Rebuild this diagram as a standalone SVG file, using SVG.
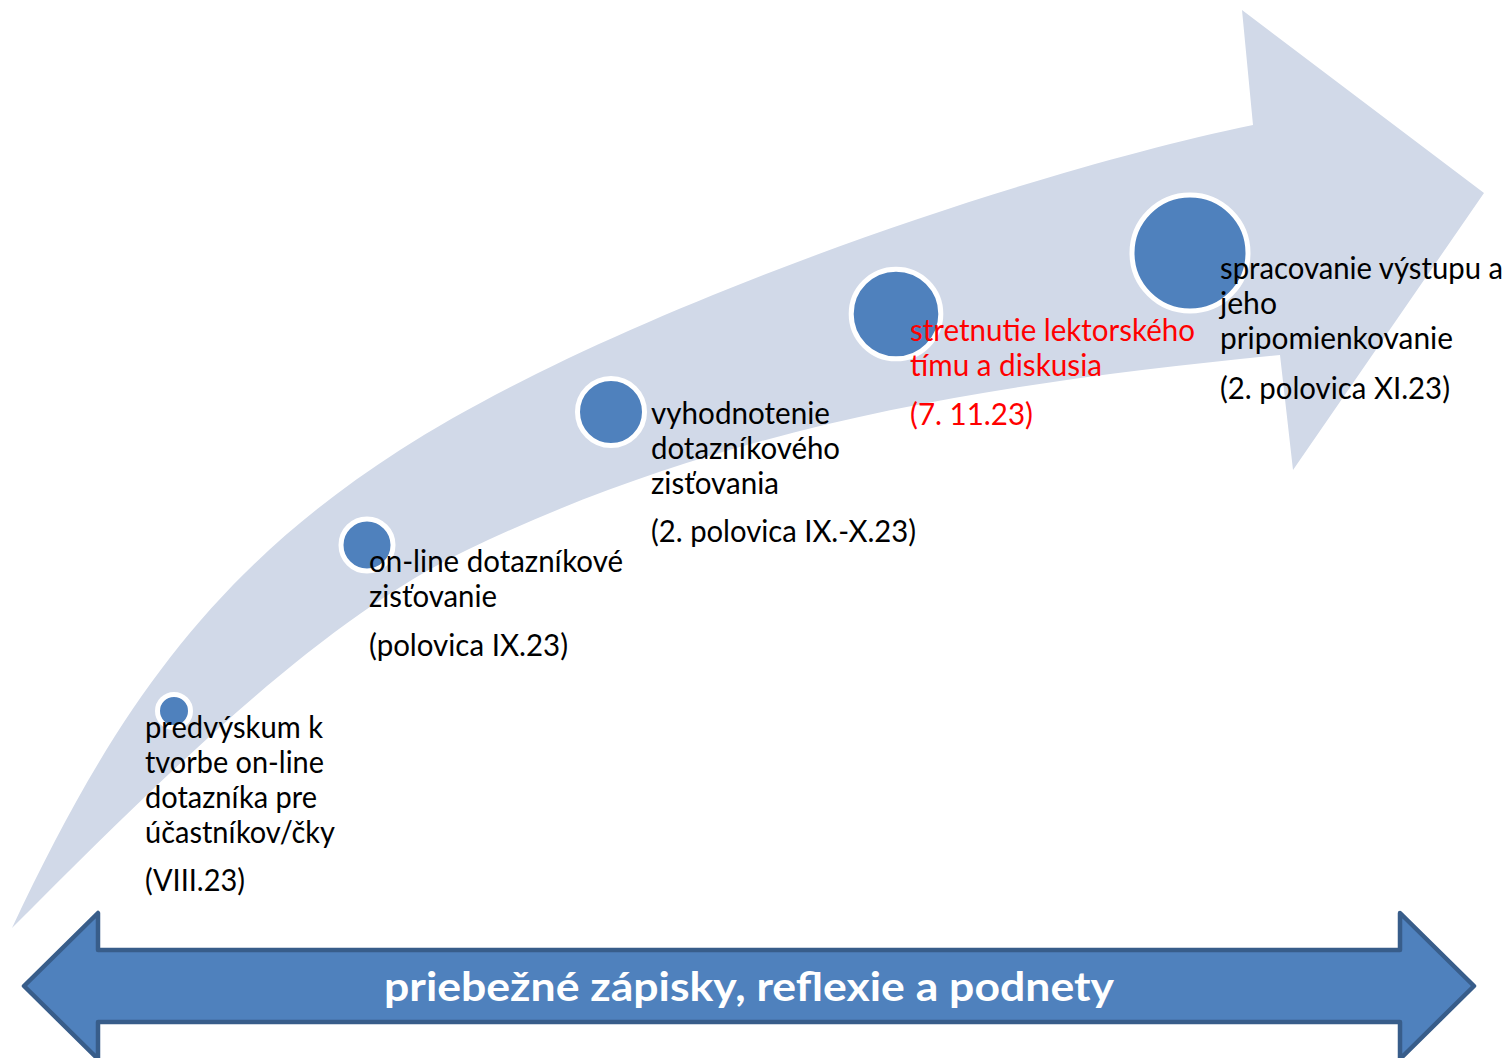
<svg xmlns="http://www.w3.org/2000/svg" width="1509" height="1058" viewBox="0 0 1509 1058">
  <style>
    .band { fill: #D1D9E8; stroke: none; }
    .dot { fill: #4F81BD; stroke: #FFFFFF; stroke-width: 5; }
    .lbl { font-family: Lato, "Liberation Sans", sans-serif; font-size: 30px; fill: #000000; }
    .red { fill: #FF0000; }
    .bar { fill: #4F81BD; stroke: #385D8A; stroke-width: 4.5; stroke-linejoin: round; }
    .barlbl { font-family: Lato, "Liberation Sans", sans-serif; font-size: 41px; font-weight: bold; fill: #FFFFFF; }
  </style>
  <rect width="1509" height="1058" fill="#FFFFFF"/>
  <g id="backdrop">
    <path class="band" d="M 12,928 C 112,715 210,572 400,450 C 610,315 1008,176 1253,125 L 1242,10 L 1484,193 L 1293,470 L 1280,355 C 1010,382 737,420 467,550 C 317,622 162,778 12,928 Z"/>
  </g>
  <g id="connectors"></g>
  <g id="step1">
    <circle class="dot" cx="174" cy="711" r="16.5"/>
    <text class="lbl" x="145" y="737.5" textLength="178" lengthAdjust="spacingAndGlyphs">predvýskum k</text>
    <text class="lbl" x="145" y="772.5" textLength="179" lengthAdjust="spacingAndGlyphs">tvorbe on-line</text>
    <text class="lbl" x="145" y="807.5" textLength="172" lengthAdjust="spacingAndGlyphs">dotazníka pre</text>
    <text class="lbl" x="145" y="842.5" textLength="190" lengthAdjust="spacingAndGlyphs">účastníkov/čky</text>
    <text class="lbl" x="145" y="891" textLength="100" lengthAdjust="spacingAndGlyphs">(VIII.23)</text>
  </g>
  <g id="step2">
    <circle class="dot" cx="367" cy="545" r="26"/>
    <text class="lbl" x="369" y="571.5" textLength="254" lengthAdjust="spacingAndGlyphs">on-line dotazníkové</text>
    <text class="lbl" x="369" y="606.5" textLength="128" lengthAdjust="spacingAndGlyphs">zisťovanie</text>
    <text class="lbl" x="369" y="655.5" textLength="199" lengthAdjust="spacingAndGlyphs">(polovica IX.23)</text>
  </g>
  <g id="step3">
    <circle class="dot" cx="611" cy="412" r="33.5"/>
    <text class="lbl" x="651" y="424" textLength="179" lengthAdjust="spacingAndGlyphs">vyhodnotenie</text>
    <text class="lbl" x="651" y="459" textLength="189" lengthAdjust="spacingAndGlyphs">dotazníkového</text>
    <text class="lbl" x="651" y="494" textLength="128" lengthAdjust="spacingAndGlyphs">zisťovania</text>
    <text class="lbl" x="651" y="542" textLength="265" lengthAdjust="spacingAndGlyphs">(2. polovica IX.-X.23)</text>
  </g>
  <g id="step4">
    <circle class="dot" cx="896" cy="314" r="44.8"/>
    <text class="lbl red" x="910" y="340.5" textLength="285" lengthAdjust="spacingAndGlyphs">stretnutie lektorského</text>
    <text class="lbl red" x="910" y="375.5" textLength="192" lengthAdjust="spacingAndGlyphs">tímu a diskusia</text>
    <text class="lbl red" x="910" y="424.5" textLength="123" lengthAdjust="spacingAndGlyphs">(7. 11.23)</text>
  </g>
  <g id="step5">
    <circle class="dot" cx="1190" cy="253" r="58"/>
    <text class="lbl" x="1220" y="279" textLength="283" lengthAdjust="spacingAndGlyphs">spracovanie výstupu a</text>
    <text class="lbl" x="1220" y="314" textLength="57" lengthAdjust="spacingAndGlyphs">jeho</text>
    <text class="lbl" x="1220" y="349" textLength="233" lengthAdjust="spacingAndGlyphs">pripomienkovanie</text>
    <text class="lbl" x="1220" y="398.5" textLength="230" lengthAdjust="spacingAndGlyphs">(2. polovica XI.23)</text>
  </g>
  <g id="timeline">
    <path class="bar" d="M 24,986 L 98,913 L 98,950 L 1400,950 L 1400,913 L 1474,986 L 1400,1059 L 1400,1022 L 98,1022 L 98,1059 Z"/>
    <text class="barlbl" x="749" y="1001" text-anchor="middle" textLength="730" lengthAdjust="spacingAndGlyphs">priebežné zápisky, reflexie a podnety</text>
  </g>
</svg>
